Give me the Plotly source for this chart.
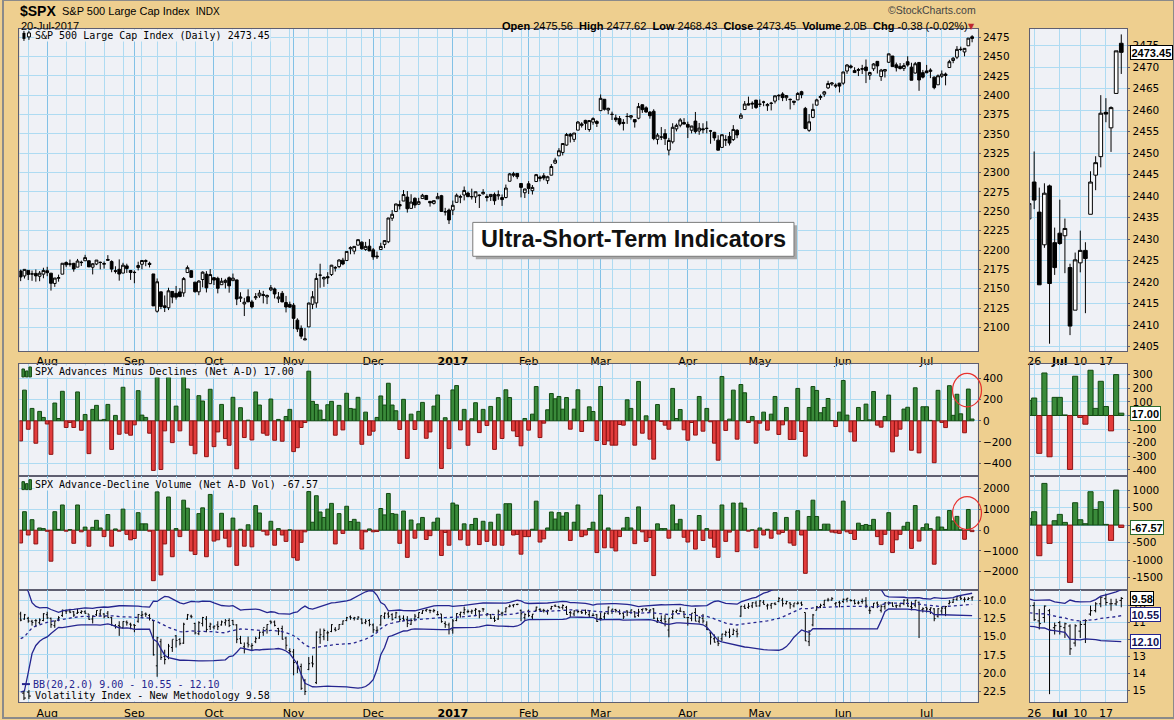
import numpy as np
import pandas as pd
import plotly.graph_objects as go

W, H = 1174, 720

# ---------------- data ----------------
holidays = ["2016-07-04", "2016-09-05", "2016-11-24", "2016-12-26", "2017-01-02",
            "2017-01-16", "2017-02-20", "2017-04-14", "2017-05-29", "2017-07-04"]

spx_open = [
 2172.9,2166.5,2173.7,2168.9,2169.8,2166.1,2168.8,
 2173.2,2170.1,2156.8,2163.5,2168.8,2183.8,2182.2,2182.8,2177.9,2183.7,2186.1,2186.2,2177.8,2181.9,2184.2,2181.6,2187.8,2185.1,2173.3,2175.1,2170.2,2179.5,2173.6,
 2171.3,2177.5,2181.6,2185.2,2182.8,2169.1,2120.9,2146.0,2127.9,2125.4,2146.5,2144.0,2145.9,2144.6,2170.9,2173.3,2158.5,2146.0,2161.9,2168.9,2156.5,
 2164.3,2163.4,2155.2,2158.2,2164.2,2160.4,2161.4,2137.7,2130.3,2139.7,2133.0,2138.3,2140.8,2142.5,2139.4,2148.5,2149.7,2137.0,2144.1,2132.2,2129.8,
 2128.7,2109.4,2098.8,2083.8,2100.6,2129.9,2131.6,2167.5,2162.7,2165.6,2168.3,2177.5,2178.6,2186.9,2186.4,2201.6,2198.6,2206.3,2210.2,2200.8,2205.0,
 2200.2,2191.1,2200.6,2207.3,2210.7,2241.1,2249.7,2258.8,2263.3,2268.4,2253.8,2266.8,2259.2,2266.5,2270.5,2262.9,2260.3,2266.2,2270.2,2249.5,2251.6,
 2251.6,2261.6,2268.2,2271.1,2273.6,2269.0,2268.6,2271.1,2272.7,2269.1,2269.1,2271.9,2270.0,2267.8,2267.9,2288.9,2298.6,2299.0,2286.0,2274.0,
 2285.6,2276.7,2288.5,2294.3,2295.9,2289.6,2296.7,2312.3,2321.7,2326.1,2335.6,2349.6,2343.0,2354.9,2361.1,2367.5,2355.7,2365.2,2366.1,
 2380.1,2394.8,2380.9,2375.2,2370.7,2369.8,2363.5,2372.5,2371.6,2368.6,2370.3,2387.7,2383.7,2378.2,2379.3,2343.0,2346.0,2350.4,2329.1,2339.8,2356.5,2361.3,2364.8,
 2362.3,2354.8,2366.6,2353.8,2356.6,2357.2,2353.9,2352.1,2342.0,2332.6,2342.5,2346.8,2342.7,2354.7,2370.3,2381.5,2389.0,2389.7,2393.7,
 2388.5,2391.1,2386.5,2389.8,2392.4,2399.9,2401.6,2396.8,2394.8,2392.4,2394.0,2404.6,2383.0,2354.7,2371.4,2387.2,2397.0,2401.4,2409.5,2414.5,2411.7,2415.6,
 2415.6,2431.3,2437.8,2431.9,2432.0,2434.3,2436.4,2425.9,2434.2,2443.8,2424.1,2431.2,2442.6,2450.7,2439.3,2437.4,2434.7,2443.3,2436.3,2428.7,2442.4,2429.2,
 2431.4,2430.8,2423.4,2413.5,2424.5,2427.4,2435.8,2444.9,2449.2,2459.5,2455.9,2463.9,2475.56]
spx_high = [
 2174.6,2175.1,2173.7,2173.5,2174.9,2172.9,2177.1,
 2178.3,2170.1,2163.8,2168.2,2182.9,2185.4,2187.7,2183.4,2188.5,2186.3,2193.8,2186.2,2183.1,2187.0,2185.0,2185.2,2193.4,2186.7,2179.0,2187.9,2183.5,2182.3,2173.8,
 2173.6,2184.9,2186.6,2187.9,2184.9,2169.1,2163.3,2146.0,2141.3,2151.3,2146.5,2153.6,2150.8,2165.1,2180.0,2173.8,2158.5,2161.1,2172.4,2172.7,2175.3,
 2164.3,2165.5,2164.0,2162.9,2165.9,2169.6,2161.6,2145.4,2138.2,2149.2,2135.6,2144.4,2148.4,2147.2,2142.6,2154.8,2151.4,2145.7,2147.1,2140.7,2133.3,
 2131.5,2111.8,2102.6,2099.1,2132.0,2146.9,2170.1,2182.3,2165.9,2171.4,2180.8,2179.2,2188.1,2189.9,2198.7,2204.8,2204.7,2213.4,2211.1,2210.5,2214.1,
 2202.6,2198.0,2209.4,2212.8,2241.6,2251.7,2259.8,2264.0,2277.5,2276.2,2272.1,2268.1,2267.5,2272.6,2271.2,2263.2,2263.8,2273.8,2271.3,2254.5,2253.6,
 2263.9,2273.0,2271.5,2282.1,2275.5,2279.3,2275.3,2271.8,2278.7,2272.1,2272.0,2274.3,2277.0,2271.8,2284.6,2299.6,2301.0,2299.0,2286.0,2279.1,
 2289.1,2284.0,2298.3,2296.2,2299.4,2295.9,2311.1,2319.2,2331.6,2337.6,2351.3,2351.3,2351.2,2366.7,2365.1,2368.3,2367.3,2371.5,2367.8,
 2401.0,2394.8,2383.9,2378.8,2375.1,2373.1,2369.1,2376.9,2374.4,2368.6,2390.0,2388.1,2385.7,2379.6,2381.9,2351.0,2358.9,2356.2,2344.9,2363.8,2363.4,2370.4,2370.4,
 2365.9,2360.5,2378.4,2364.2,2363.8,2366.4,2355.2,2352.7,2348.3,2349.1,2348.4,2352.6,2361.4,2356.2,2377.0,2392.5,2398.2,2392.1,2393.7,
 2394.5,2392.9,2389.8,2391.4,2399.3,2401.4,2403.9,2399.7,2395.7,2392.4,2404.1,2405.8,2384.9,2375.7,2389.1,2395.5,2400.9,2405.6,2418.7,2416.7,2415.3,2416.0,
 2430.1,2440.2,2439.6,2436.2,2435.3,2439.3,2446.2,2430.4,2441.5,2443.9,2434.0,2433.2,2453.8,2450.7,2442.2,2441.6,2441.6,2450.4,2442.0,2443.0,2442.7,2432.7,
 2439.2,2434.8,2424.3,2426.9,2432.0,2429.3,2445.8,2449.3,2463.5,2462.8,2460.9,2473.8,2477.62]
spx_low = [
 2159.8,2163.2,2161.2,2160.2,2159.1,2159.7,2163.5,
 2166.2,2147.6,2152.4,2159.1,2168.8,2177.9,2178.6,2172.0,2177.9,2179.4,2186.1,2178.1,2168.5,2180.5,2175.1,2176.0,2186.8,2171.3,2169.7,2160.4,2170.2,2170.4,2161.4,
 2157.1,2173.6,2175.1,2179.1,2177.5,2127.8,2119.1,2123.6,2119.9,2122.4,2131.2,2135.9,2139.2,2139.6,2170.9,2164.0,2145.0,2141.6,2151.8,2145.2,2156.5,
 2154.8,2144.0,2155.2,2150.3,2144.9,2160.4,2128.8,2132.8,2114.7,2133.0,2124.4,2135.5,2138.2,2131.1,2130.1,2146.9,2137.4,2131.6,2132.5,2119.4,2125.5,
 2097.9,2094.0,2085.2,2083.8,2100.6,2123.6,2125.4,2151.2,2152.5,2156.1,2166.4,2172.2,2176.6,2180.4,2186.4,2194.5,2194.5,2206.3,2200.4,2199.0,2198.8,
 2187.4,2188.4,2200.0,2202.5,2208.9,2237.6,2249.2,2252.4,2263.3,2248.4,2253.8,2254.2,2258.2,2266.5,2265.2,2256.1,2258.8,2266.2,2249.1,2244.6,2233.6,
 2245.1,2261.6,2260.5,2264.1,2268.8,2265.3,2260.8,2254.3,2271.5,2262.8,2263.4,2258.4,2265.0,2257.0,2266.7,2288.9,2294.1,2291.6,2268.0,2267.2,
 2272.4,2271.7,2287.9,2288.6,2290.2,2285.4,2296.6,2311.1,2321.4,2322.2,2334.8,2338.9,2339.6,2354.9,2358.3,2355.1,2352.9,2361.9,2359.0,
 2380.1,2380.2,2375.4,2368.0,2365.5,2361.0,2354.5,2363.0,2368.5,2358.2,2368.9,2377.2,2377.6,2369.7,2341.9,2336.5,2342.1,2335.7,2322.3,2337.6,2353.3,2358.6,2362.6,
 2344.7,2350.7,2350.5,2348.9,2350.7,2350.7,2337.3,2341.2,2329.0,2332.5,2334.5,2335.1,2340.9,2344.5,2370.3,2381.2,2386.8,2382.4,2382.4,
 2384.8,2385.8,2379.8,2380.4,2389.4,2393.6,2392.4,2392.8,2381.7,2387.2,2393.9,2396.1,2356.2,2352.7,2370.4,2386.9,2393.9,2398.0,2408.0,2412.2,2409.4,2403.6,
 2413.5,2427.7,2434.3,2429.0,2424.8,2427.4,2415.7,2420.0,2431.3,2428.1,2418.5,2422.9,2441.8,2436.6,2430.7,2433.3,2431.3,2437.0,2419.4,2428.0,2405.7,2421.7,
 2428.7,2422.1,2407.7,2413.5,2422.3,2412.8,2435.8,2441.4,2446.7,2457.2,2450.3,2463.9,2468.43]
spx_close = [
 2165.2,2175.0,2168.5,2169.2,2166.6,2170.1,2173.6,
 2170.8,2157.0,2163.8,2164.3,2182.9,2180.9,2181.7,2175.5,2185.8,2184.1,2190.2,2178.2,2182.2,2187.0,2183.9,2182.6,2186.9,2175.4,2172.5,2169.0,2180.4,2176.1,2171.0,
 2170.9,2180.0,2186.5,2186.2,2181.3,2127.8,2159.0,2127.0,2125.8,2147.3,2139.2,2139.1,2139.8,2163.1,2177.2,2164.7,2146.1,2159.9,2171.4,2151.1,2168.3,
 2161.2,2150.5,2159.7,2160.8,2153.7,2163.7,2136.7,2139.2,2132.6,2133.0,2126.5,2139.6,2144.3,2141.3,2141.2,2151.3,2143.2,2139.4,2133.0,2126.4,2126.2,
 2111.7,2097.9,2088.7,2085.2,2131.5,2139.6,2163.3,2167.5,2164.5,2164.2,2180.4,2176.9,2187.1,2181.9,2198.2,2202.9,2204.7,2213.4,2201.7,2204.7,2198.8,
 2191.1,2192.0,2204.7,2212.2,2241.4,2246.2,2259.5,2257.0,2271.7,2253.3,2262.0,2258.1,2262.5,2270.8,2265.2,2261.0,2263.8,2268.9,2249.9,2249.3,2238.8,
 2257.8,2270.8,2269.0,2277.0,2268.9,2268.9,2275.3,2270.4,2274.6,2267.9,2271.9,2263.7,2271.3,2265.2,2280.1,2298.4,2296.7,2294.7,2280.9,2278.9,
 2279.6,2280.9,2297.4,2292.6,2293.1,2294.7,2307.9,2316.1,2328.3,2337.6,2349.3,2347.2,2351.2,2365.4,2362.8,2363.8,2367.3,2369.8,2363.6,
 2396.0,2381.9,2383.1,2375.3,2368.4,2363.0,2364.9,2372.6,2373.5,2365.5,2385.3,2381.4,2378.3,2373.5,2344.0,2348.5,2346.0,2344.0,2341.6,2358.6,2361.1,2368.1,2362.7,
 2358.8,2360.2,2353.0,2357.5,2355.5,2357.2,2353.8,2344.9,2329.0,2349.0,2342.2,2338.2,2355.8,2348.7,2374.2,2388.6,2387.5,2388.8,2384.2,
 2388.3,2391.2,2388.1,2389.5,2399.3,2399.4,2396.9,2399.6,2394.4,2390.9,2402.3,2400.7,2357.0,2365.7,2381.7,2394.0,2398.4,2404.4,2415.1,2415.8,2412.9,2411.8,
 2430.1,2439.1,2436.1,2429.3,2433.1,2433.8,2431.8,2429.4,2440.4,2437.9,2432.5,2433.2,2453.5,2437.0,2435.6,2434.5,2438.3,2439.1,2419.4,2440.7,2419.7,2423.4,
 2429.0,2432.5,2409.8,2425.2,2427.4,2425.5,2443.3,2447.8,2459.3,2459.1,2460.6,2473.8,2473.45]

ad_net = [
 -190,290,-80,117,-212,89,32,
 -30,-317,168,22,279,-63,-16,-63,273,-89,60,-310,108,146,6,13,155,-270,51,-127,317,-117,-136,
 -38,285,54,32,-117,-469,412,-460,-95,412,-206,139,-95,412,301,-231,-311,238,187,-339,298,
 -244,-105,155,-168,-231,222,-453,124,-158,6,-181,273,149,-117,-136,206,-184,13,-193,41,108,
 -291,-254,-63,-16,469,184,155,101,13,152,184,-136,146,-86,260,117,111,222,-222,82,-136,
 -98,32,235,149,355,149,95,-82,203,-355,63,-82,89,174,-165,-105,139,244,-450,29,-263,
 292,333,-86,108,-231,19,171,-111,108,-44,136,-270,219,-167,293,220,-95,-148,-236,22,
 -88,63,324,-158,-22,104,258,208,230,110,220,-79,110,293,-101,3,132,88,-186,
 324,-224,-189,-230,-230,-35,-41,198,117,-230,372,-117,47,-173,-362,154,-6,-41,-79,306,22,107,-85,
 -183,-16,-135,230,-98,117,-9,-211,-372,419,-91,16,290,-173,343,265,-16,41,-211,
 -22,82,-88,63,230,-129,-38,126,-176,-176,306,-101,-334,126,324,287,76,126,211,3,-54,82,
 381,54,-104,-192,126,3,158,9,277,-41,-60,41,243,-293,-145,-79,111,128,-278,312,-303,133,
 133,4,-396,288,-15,-64,332,52,251,66,-113,300,17]

adv_net = [
 -616,893,-231,508,-662,108,77,
 -50,-1494,893,40,1217,-46,30,-631,1217,-77,150,-770,139,477,108,-308,755,-770,62,-46,1016,-200,-462,
 -400,847,308,308,-46,-2433,1848,-2156,-662,1601,-1278,77,-308,1448,1063,-1001,-1170,801,1078,-1278,1725,
 -524,-462,816,-385,-801,585,-1694,46,-770,262,-801,1186,831,-46,-231,431,-724,77,-231,-539,20,
 -1324,-1447,-585,-77,1863,385,1663,878,616,1016,1294,-662,801,-154,1155,416,524,385,-909,-77,62,
 -77,-62,1047,739,1771,801,770,-631,924,-1309,493,-385,308,616,-447,-262,385,585,-1217,-108,-724,
 1309,1217,-462,308,-724,277,570,-693,431,-539,385,-724,770,-724,1278,1278,-231,-200,-1155,-308,
 -308,46,1401,-570,-416,108,878,539,847,678,847,-493,385,1217,-308,-231,77,385,-1078,
 1694,-847,108,-847,-1001,-308,108,616,108,-647,1124,-77,-539,-354,-2187,308,77,77,-385,1217,308,524,-339,
 -570,-30,-909,709,-493,77,-385,-816,-1309,1217,-539,-92,1309,-1032,1309,1063,-46,20,-847,
 108,-231,46,-385,847,-185,-108,616,-616,-724,940,-231,-2079,662,1448,662,31,293,293,-92,-123,-154,
 1401,-77,-154,-447,339,231,277,231,524,-308,-693,-200,847,-1078,-462,-200,190,381,-876,1190,-524,124,
 305,76,-1638,638,152,38,952,448,667,19,-438,1000,-68]

# VIX closes of the 19 sessions before the first bar (needed for the 20-day bands)
vix_pre_close = [17.25,25.76,23.85,18.75,16.64,15.63,14.77,15.58,14.96,14.76,
                 13.20,13.54,13.55,13.04,12.82,12.67,12.44,11.97,11.77]

vix_open = [
 11.9,12.6,12.5,12.9,12.8,13.1,12.8,
 12.0,12.5,13.5,12.6,12.1,11.5,11.5,11.6,11.8,11.7,11.6,11.9,12.6,12.0,11.9,11.9,11.8,12.4,13.5,13.5,13.8,13.0,13.3,
 13.4,12.9,12.1,11.9,12.1,12.8,19.0,15.7,17.7,17.8,16.5,14.9,15.4,15.9,12.6,12.2,13.2,14.6,13.2,12.6,13.6,
 13.7,13.4,13.4,13.1,12.8,12.8,13.4,15.3,16.4,15.9,16.3,15.7,15.2,14.4,14.0,12.9,13.0,13.9,13.9,15.2,16.9,
 17.1,18.7,19.1,21.0,19.5,18.6,21.3,15.1,15.0,14.5,14.3,14.0,14.0,13.3,12.8,12.3,12.5,12.6,12.6,13.1,12.8,
 13.4,14.2,13.4,12.3,11.9,12.0,12.4,12.3,12.5,12.7,13.3,12.6,12.4,11.8,11.4,11.4,11.5,12.0,11.9,13.2,13.4,
 14.1,12.8,12.0,11.7,11.6,11.6,11.4,11.5,11.2,12.0,12.0,12.5,12.6,11.8,11.6,10.9,10.7,10.6,11.4,12.4,
 11.5,12.3,11.4,11.3,11.4,11.6,11.2,10.8,10.9,11.0,11.0,11.7,11.9,11.5,11.6,11.4,12.0,12.1,12.0,
 12.5,12.3,11.8,11.5,11.3,11.6,11.8,11.5,11.7,11.6,12.1,11.3,11.2,11.5,11.2,13.0,12.8,12.6,14.1,12.4,11.6,11.5,11.6,
 12.4,12.5,11.7,12.9,12.5,13.4,14.5,15.3,15.7,15.3,14.7,14.4,14.7,14.3,12.2,10.9,11.0,10.8,10.4,
 10.8,10.3,10.8,10.7,10.5,10.2,10.0,10.5,10.4,10.8,10.5,10.4,11.7,15.7,13.4,11.4,10.9,10.6,10.0,10.0,10.5,10.3,
 10.2,9.9,10.0,10.1,10.4,10.2,10.1,11.4,11.0,10.4,11.4,10.9,10.4,10.4,10.8,10.8,10.5,10.0,10.9,10.7,10.3,11.3,
 11.0,11.3,11.2,12.2,11.5,11.1,10.5,10.3,9.9,9.6,9.9,9.9,9.7]
vix_high = [
 12.9,12.7,13.1,13.5,13.7,13.3,12.9,
 12.6,13.8,13.8,12.9,12.3,11.9,11.8,12.3,11.9,11.9,11.9,12.7,13.2,12.2,12.2,12.5,12.4,13.5,13.9,14.9,13.9,13.5,14.0,
 14.4,13.1,12.5,12.3,12.8,17.6,20.5,18.2,18.8,18.1,17.1,16.5,16.2,16.0,12.7,12.5,14.7,14.8,13.6,14.4,14.1,
 14.0,14.1,13.5,13.5,13.7,13.4,15.9,16.0,17.3,16.5,16.9,15.9,15.3,14.9,14.6,13.3,13.6,14.8,15.4,16.8,17.4,
 20.3,20.0,22.3,23.0,19.6,19.2,21.5,16.0,15.5,15.6,14.4,14.3,14.0,13.4,12.9,12.7,12.8,12.7,13.3,13.3,13.6,
 14.5,14.4,13.5,12.6,12.5,12.8,12.5,13.0,12.9,13.7,13.4,12.9,12.5,11.9,11.6,11.8,11.7,12.1,13.1,13.8,14.7,
 14.6,12.9,12.4,12.0,11.8,11.9,12.2,12.5,11.6,12.2,12.6,13.0,12.7,12.2,11.7,11.0,11.0,10.7,12.9,12.7,
 12.3,12.6,11.5,11.5,11.7,12.0,11.3,10.9,11.1,11.3,12.0,12.3,12.2,11.8,11.9,12.0,12.4,12.2,13.0,
 12.8,12.7,12.0,11.9,11.7,12.0,12.6,12.2,11.9,12.4,12.3,11.6,11.5,11.7,12.6,13.1,13.1,13.6,15.1,12.6,11.8,11.6,12.4,
 13.5,12.9,12.9,13.2,13.2,14.1,16.1,15.8,16.3,15.6,15.0,15.2,14.8,15.1,12.3,11.2,11.2,11.1,10.9,
 10.9,10.6,11.3,11.2,10.7,10.3,10.9,10.6,11.2,11.0,10.6,10.8,15.6,16.3,13.6,11.4,11.1,10.9,10.2,10.1,10.8,11.0,
 10.4,10.3,10.2,10.6,10.6,10.5,11.1,11.9,11.1,11.1,11.7,11.3,10.7,10.9,11.1,11.0,10.7,10.9,11.4,11.0,15.2,11.7,
 11.7,11.9,12.9,12.4,11.9,12.2,10.6,10.4,10.1,10.0,10.3,10.0,10.1]
vix_low = [
 11.6,11.9,12.3,12.7,12.6,12.5,11.8,
 11.6,12.4,12.8,12.2,11.3,11.3,11.2,11.5,11.2,11.4,11.4,11.9,12.1,11.4,11.3,11.8,11.5,12.3,13.3,12.9,12.9,12.8,13.1,
 13.3,11.9,11.5,11.7,11.9,12.8,15.0,15.3,16.8,16.0,15.4,14.8,15.2,13.1,11.9,12.0,13.1,12.9,12.3,12.2,13.1,
 13.5,12.9,12.8,12.6,12.5,12.7,13.3,14.9,15.8,15.0,15.9,15.0,14.3,13.9,13.3,12.8,12.8,13.8,13.5,15.0,16.6,
 16.7,18.3,18.7,20.8,17.8,17.6,14.3,13.9,13.9,14.2,13.3,13.7,13.3,12.8,12.3,12.1,12.3,12.2,12.5,12.6,12.6,
 13.2,13.6,12.1,11.7,11.6,11.8,11.6,12.1,12.1,12.2,12.5,11.9,11.7,11.4,11.2,11.3,11.2,11.5,11.9,12.9,13.1,
 12.6,11.8,11.6,10.9,11.3,11.3,11.1,11.4,11.1,11.8,11.9,12.2,11.3,11.6,11.0,10.6,10.6,10.5,11.3,11.8,
 11.3,11.9,10.9,11.1,11.2,11.3,10.8,10.6,10.8,10.6,10.8,11.5,11.4,11.4,11.4,11.3,11.4,11.8,11.9,
 11.7,11.7,10.9,11.2,11.2,11.3,11.7,11.4,11.3,11.5,11.2,11.2,11.1,11.3,11.1,12.4,12.1,12.0,12.5,11.4,11.3,11.0,11.5,
 12.3,11.8,11.1,12.2,11.9,12.9,14.4,14.7,15.0,14.6,14.2,13.9,13.9,13.9,10.8,10.6,10.4,10.3,10.1,
 10.0,10.0,10.5,10.4,10.3,9.6,9.7,10.1,10.3,10.4,10.2,10.2,11.7,14.1,11.9,10.8,10.5,10.0,9.7,9.6,10.3,10.1,
 9.8,9.7,9.9,9.9,10.1,9.8,9.6,10.9,10.4,10.2,10.6,10.3,10.2,10.3,10.6,10.4,9.9,9.8,10.2,10.0,10.2,11.0,
 10.9,11.0,11.1,11.1,10.9,10.8,10.0,9.8,9.5,9.3,9.6,9.6,9.5]
vix_close = [
 12.74,12.02,12.87,13.05,12.83,12.72,11.87,
 12.44,13.37,12.86,12.42,11.39,11.50,11.66,12.05,11.68,11.55,11.81,12.64,12.19,11.43,11.34,12.27,12.38,13.45,13.63,13.65,12.94,13.12,13.42,
 13.48,11.98,12.02,11.94,12.51,17.50,15.16,17.85,18.14,16.30,15.37,15.53,15.92,13.30,12.02,12.29,14.50,13.10,12.39,14.02,13.29,
 13.57,13.63,12.99,12.84,13.48,13.38,15.36,15.91,16.69,16.12,16.21,15.28,14.41,13.75,13.34,13.02,13.46,14.24,15.36,16.19,17.06,
 18.56,19.32,22.08,22.51,18.71,18.74,14.38,14.74,14.17,14.48,13.37,14.13,13.35,12.85,12.42,12.41,12.43,12.34,13.15,12.90,13.33,
 14.07,14.12,12.14,11.79,12.22,12.64,11.75,12.64,12.72,13.19,12.79,12.20,11.71,11.45,11.27,11.43,11.44,11.99,12.95,13.37,14.04,
 12.85,11.85,11.67,11.32,11.56,11.49,11.26,11.54,11.23,11.87,12.48,12.78,11.54,11.77,11.07,10.81,10.63,10.58,11.88,11.99,
 12.13,11.93,10.97,11.37,11.45,11.45,10.88,10.85,11.07,10.74,11.97,11.76,11.49,11.57,11.74,11.71,11.47,12.09,12.92,
 12.54,11.81,10.96,11.24,11.45,11.86,12.30,11.66,11.35,12.30,11.63,11.21,11.28,11.34,12.47,12.81,13.12,12.96,12.50,11.53,11.42,11.54,12.37,
 12.38,11.79,12.89,12.39,12.87,14.05,15.07,15.77,15.96,14.66,14.42,14.93,14.15,14.63,10.84,11.13,10.85,10.36,10.82,
 10.11,10.59,10.68,10.46,10.57,9.77,10.50,10.21,10.60,10.40,10.42,10.65,15.59,14.66,12.04,10.93,10.72,10.02,9.99,9.81,10.38,10.41,
 9.89,9.75,10.07,10.45,10.39,10.16,10.70,11.46,10.42,10.64,10.90,10.38,10.37,10.86,10.75,10.48,10.02,10.83,11.06,10.03,11.44,11.18,
 11.22,11.07,12.54,11.19,11.11,10.89,10.30,9.90,9.51,9.82,9.89,9.79,9.58]

price_ticks = list(range(2100, 2476, 25))
zoom_price_ticks = list(range(2405, 2476, 5))
ad_ticks = [-400, -200, 0, 200, 400]
ad_zoom_ticks = [-400, -300, -200, -100, 0, 100, 200, 300]
vol_ticks = [-2000, -1000, 0, 1000, 2000]
vol_zoom_ticks = [-1500, -1000, -500, 0, 500, 1000]
vix_ticks = [10.0, 12.5, 15.0, 17.5, 20.0, 22.5]
vix_zoom_ticks = [10, 11, 12, 13, 14, 15]

# ---------------- derived ----------------
days = pd.bdate_range("2016-06-23", "2017-07-20")
days = days[~days.isin(pd.to_datetime(holidays))]
dates = days[days >= pd.Timestamp("2016-07-21")]
N = len(dates)
for nm, arr in [("spx_open", spx_open), ("spx_high", spx_high), ("spx_low", spx_low),
                ("spx_close", spx_close), ("ad_net", ad_net), ("adv_net", adv_net),
                ("vix_open", vix_open), ("vix_high", vix_high), ("vix_low", vix_low),
                ("vix_close", vix_close)]:
    assert len(arr) == N, (nm, len(arr), N)
idx = np.arange(N)

month_idx, month_lbl = [], []
for i in range(1, N):
    if dates[i].month != dates[i - 1].month:
        month_idx.append(i)
        month_lbl.append("<b>%d</b>" % dates[i].year if dates[i].month == 1 else dates[i].strftime("%b"))
week_idx = [i for i in range(1, N) if dates[i].isocalendar()[1] != dates[i - 1].isocalendar()[1]]

ZL, ZR = 233.2, 252.2
zoom_week = [i for i in week_idx if i > ZL]
zoom_lbl = [("<b>%s</b>" % dates[i].strftime("%b")) if i in month_idx else str(dates[i].day) for i in zoom_week]

s = pd.Series(vix_pre_close + vix_close)
bb_mid = s.rolling(20).mean().values[len(vix_pre_close):]
bb_sd = s.rolling(20).std(ddof=0).values[len(vix_pre_close):]
bb_up = bb_mid + 2 * bb_sd
bb_lo = bb_mid - 2 * bb_sd

# ---------------- styling ----------------
PAPER = "#EECF8F"
PLOT = "#EFF1F6"
GRID = "#AEDBF2"
MGRID = "#82C1E6"
AXL = "#5E5E70"
GREEN, GREEN_L = "#3A8A3A", "#124A12"
RED, RED_L = "#E23C3C", "#8E1414"
NAVY = "#25258F"
MONO = "DejaVu Sans Mono"
SANS = "DejaVu Sans"
ARIAL = "Liberation Sans"


def px(x):
    return x / W


def py(y):
    return 1 - y / H


def ydom(top, bot):
    return [py(bot), py(top)]


LX = [px(16.5), px(977.3)]
RX = [px(1029.7), px(1127.3)]
R_MAIN, R_AD, R_VOL, R_VIX = (29, 352), (365, 477.7), (477.7, 591.7), (591.7, 704.3)

zsel = idx >= 231

traces = []


def candle(xa, ya, sel):
    return go.Candlestick(
        x=idx[sel], open=np.array(spx_open)[sel], high=np.array(spx_high)[sel],
        low=np.array(spx_low)[sel], close=np.array(spx_close)[sel],
        xaxis=xa, yaxis=ya, whiskerwidth=0,
        increasing=dict(line=dict(color="#000000", width=1), fillcolor="#FFFFFF"),
        decreasing=dict(line=dict(color="#000000", width=1), fillcolor="#000000"),
        hoverinfo="skip", showlegend=False)


def bars(vals, xa, ya, sel):
    v = np.array(vals)[sel]
    return go.Bar(
        x=idx[sel], y=v, width=1, xaxis=xa, yaxis=ya,
        marker=dict(color=[GREEN if a >= 0 else RED for a in v],
                    line=dict(color=[GREEN_L if a >= 0 else RED_L for a in v], width=1)),
        hoverinfo="skip", showlegend=False)


def ohlc(xa, ya, sel):
    return go.Ohlc(
        x=idx[sel], open=np.array(vix_open)[sel], high=np.array(vix_high)[sel],
        low=np.array(vix_low)[sel], close=np.array(vix_close)[sel],
        xaxis=xa, yaxis=ya, tickwidth=0.35,
        increasing=dict(line=dict(color="#000000", width=1)),
        decreasing=dict(line=dict(color="#000000", width=1)),
        hoverinfo="skip", showlegend=False)


def band(vals, xa, ya, dash="solid"):
    return go.Scatter(x=idx, y=vals, mode="lines", xaxis=xa, yaxis=ya,
                      line=dict(color=NAVY, width=1.3, dash=dash),
                      hoverinfo="skip", showlegend=False)


all_sel = idx >= 0
traces += [candle("x", "y", all_sel), candle("x2", "y2", zsel)]
traces += [bars(ad_net, "x3", "y3", all_sel), bars(ad_net, "x4", "y4", zsel)]
traces += [bars(adv_net, "x5", "y5", all_sel), bars(adv_net, "x6", "y6", zsel)]
for xa, ya in [("x7", "y7"), ("x8", "y8")]:
    traces += [band(bb_up, xa, ya), band(bb_lo, xa, ya), band(bb_mid, xa, ya, "dot")]
traces += [ohlc("x7", "y7", all_sel), ohlc("x8", "y8", zsel)]

fig = go.Figure(traces)


def xax(dom, rng, anchor, tv, tt, show, minor=None, gc=MGRID):
    d = dict(domain=dom, range=rng, anchor=anchor, tickmode="array", tickvals=tv, ticktext=tt,
             showticklabels=show, showgrid=True, gridcolor=gc, gridwidth=1,
             showline=True, linecolor=AXL, linewidth=1, mirror=True, ticks="",
             zeroline=False, fixedrange=True, rangeslider=dict(visible=False),
             tickfont=dict(family=SANS, size=11, color="#000000"))
    if minor is not None:
        d["minor"] = dict(tickmode="array", tickvals=minor, showgrid=True, gridcolor=GRID, gridwidth=1)
    return d


def yax(dom, rng, anchor, tv, tt=None):
    d = dict(domain=dom, range=rng, anchor=anchor, side="right", tickmode="array", tickvals=tv,
             showgrid=True, gridcolor=GRID, gridwidth=1, showline=True, linecolor=AXL,
             linewidth=1, mirror=True, ticks="outside", ticklen=2, tickcolor=AXL,
             zeroline=False, fixedrange=True,
             tickfont=dict(family=SANS, size=10.5, color="#000000"))
    if tt is not None:
        d["ticktext"] = tt
    return d


LR = [-0.32, 252.5]
ZRNG = [ZL, ZR]
lay = dict(
    width=W, height=H, margin=dict(l=0, r=0, t=0, b=0),
    paper_bgcolor=PAPER, plot_bgcolor=PLOT, showlegend=False, hovermode=False,
    barmode="overlay", boxgap=0.28, boxgroupgap=0.0,
    font=dict(family=SANS, size=11, color="#000000"),
    xaxis=xax(LX, LR, "y", month_idx, month_lbl, True, week_idx),
    yaxis=yax(ydom(*R_MAIN), [2069.5, 2485.7], "x", price_ticks),
    xaxis2=xax(RX, ZRNG, "y2", zoom_week, zoom_lbl, True, None, GRID),
    yaxis2=yax(ydom(*R_MAIN), [2404.0, 2478.9], "x2", zoom_price_ticks),
    xaxis3=xax(LX, LR, "y3", month_idx, month_lbl, False, week_idx),
    yaxis3=yax(ydom(*R_AD), [-525, 537], "x3", ad_ticks),
    xaxis4=xax(RX, ZRNG, "y4", zoom_week, zoom_lbl, False, None, GRID),
    yaxis4=yax(ydom(*R_AD), [-447, 378], "x4", ad_zoom_ticks,
               [("" if v == 0 else str(v)) for v in ad_zoom_ticks]),
    xaxis5=xax(LX, LR, "y5", month_idx, month_lbl, False, week_idx),
    yaxis5=yax(ydom(*R_VOL), [-2885, 2596], "x5", vol_ticks),
    xaxis6=xax(RX, ZRNG, "y6", zoom_week, zoom_lbl, False, None, GRID),
    yaxis6=yax(ydom(*R_VOL), [-1857, 1391], "x6", vol_zoom_ticks,
               [("" if v == 0 else str(v)) for v in vol_zoom_ticks]),
    xaxis7=xax(LX, LR, "y7", month_idx, month_lbl, True, week_idx),
    yaxis7=yax(ydom(*R_VIX), [24.0, 8.63], "x7", vix_ticks, ["%.1f" % v for v in vix_ticks]),
    xaxis8=xax(RX, ZRNG, "y8", zoom_week, zoom_lbl, True, None, GRID),
    yaxis8=yax(ydom(*R_VIX), [15.68, 9.09], "x8", vix_zoom_ticks,
               [("" if v == 12 else str(v)) for v in vix_zoom_ticks]),
)
fig.update_layout(**lay)


def txt(x, y, text, size=10, color="#000000", family=MONO, xanchor="left", bg=None):
    d = dict(x=px(x), y=py(y), xref="paper", yref="paper", text=text, showarrow=False,
             xanchor=xanchor, yanchor="middle", font=dict(size=size, color=color, family=family))
    if bg:
        d.update(bgcolor=bg, borderpad=0)
    return d


def tag(val, yref, text, border, color="#000000"):
    return dict(x=px(1130), xref="paper", y=val, yref=yref, text="<b>%s</b>" % text,
                showarrow=False, xanchor="left", yanchor="middle", bgcolor="#FFFFFF",
                bordercolor=border, borderwidth=1, borderpad=0.5,
                font=dict(size=11, color=color, family=ARIAL))


last = len(spx_close) - 1
ann = [
    txt(15, 11, "<b>$SPX</b>", 14, family=ARIAL),
    txt(57, 11.5, "S&amp;P 500 Large Cap Index\u00a0 <span style='font-size:10px'>INDX</span>", 11, family=ARIAL),
    txt(16, 26, "20-Jul-2017", 11, family=ARIAL),
    txt(969, 26, "<b>Open</b> %.2f\u00a0 <b>High</b> %.2f\u00a0 <b>Low</b> %.2f\u00a0 <b>Close</b> %.2f\u00a0 "
        "<b>Volume</b> 2.0B\u00a0 <b>Chg</b> -0.38 (-0.02%%)"
        % (spx_open[last], spx_high[last], spx_low[last], spx_close[last]),
        11, family=ARIAL, xanchor="right"),
    txt(976, 27, "\u25BC", 8, color="#C0282D", family=SANS, xanchor="right"),
    txt(977, 10.5, "\u00A9StockCharts.com", 10.5, color="#444444", family=ARIAL, xanchor="right"),
    txt(31, 36, "S&amp;P 500 Large Cap Index (Daily) %.2f" % spx_close[last], 10, bg=PLOT),
    txt(31, 372.5, "SPX Advances Minus Declines (Net A-D) %.2f" % ad_net[last], 10, bg=PLOT),
    txt(31, 485.5, "SPX Advance-Decline Volume (Net A-D Vol) %.2f" % -67.57, 10, bg=PLOT),
    txt(29, 686, "BB(20,2.0) %.2f - %.2f - %.2f" % (9.00, 10.55, 12.10), 10, color=NAVY, bg=PLOT),
    txt(31, 697.5, "Volatility Index - New Methodology %.2f" % vix_close[last], 10, bg=PLOT),
    txt(632, 240, "<b>Ultra-Short-Term Indicators</b>", 23.5, color="#111111", family=ARIAL, xanchor="center"),
    tag(spx_close[last], "y2", "%.2f" % spx_close[last], "#000000"),
    tag(17.0, "y4", "17.00", "#2E6B2E"),
    tag(-67.57, "y6", "-67.57", "#2E6B2E"),
    tag(vix_close[last], "y8", "%.2f" % vix_close[last], "#000000"),
    tag(10.55, "y8", "10.55", NAVY, "#111155"),
    tag(12.10, "y8", "12.10", NAVY, "#111155"),
]


def rect(x0, y0, x1, y1, fill, line=None, lw=0):
    return dict(type="rect", xref="paper", yref="paper", x0=px(x0), x1=px(x1), y0=py(y1), y1=py(y0),
                fillcolor=fill, line=dict(color=line or fill, width=lw), layer="above")


def seg(x0, y0, x1, y1, color, w=1):
    return dict(type="line", xref="paper", yref="paper", x0=px(x0), x1=px(x1), y0=py(y0), y1=py(y1),
                line=dict(color=color, width=w), layer="above")


shapes = [
    # annotation box with shadow
    rect(474, 226, 796, 260, "#A8A8A8"),
    rect(471, 223, 793, 257, "#FFFFFF", "#7A7A7A", 1),
    # red circles
    dict(type="circle", xref="paper", yref="paper", x0=px(952), x1=px(981), y0=py(408), y1=py(374.5),
         line=dict(color="#E8322E", width=1.2), layer="above"),
    dict(type="circle", xref="paper", yref="paper", x0=px(952), x1=px(981), y0=py(531), y1=py(498),
         line=dict(color="#E8322E", width=1.2), layer="above"),
    # title icons
    seg(21, 31, 21, 41, "#000000"), rect(19.5, 33, 22.5, 39, "#000000"),
    seg(26, 31, 26, 40, "#000000"), rect(24.5, 33, 27.5, 37, "#FFFFFF", "#000000", 1),
    rect(19, 370, 21.5, 378, GREEN, GREEN_L, 1), rect(22.5, 372, 25, 378, GREEN, GREEN_L, 1),
    rect(26, 368, 28.5, 378, GREEN, GREEN_L, 1),
    rect(19, 483, 21.5, 491, GREEN, GREEN_L, 1), rect(22.5, 485, 25, 491, GREEN, GREEN_L, 1),
    rect(26, 481, 28.5, 491, GREEN, GREEN_L, 1),
    seg(19, 686, 27, 686, NAVY, 2),
    seg(21, 693, 21, 702, "#000000"), seg(19, 695, 21, 695, "#000000"), seg(21, 700, 23, 700, "#000000"),
    seg(26, 692, 26, 701, "#000000"), seg(24, 694, 26, 694, "#000000"), seg(26, 698, 28, 698, "#000000"),
    # outer frame
    dict(type="rect", xref="paper", yref="paper", x0=0, x1=1, y0=0, y1=1,
         line=dict(color="#8A8A8A", width=2), layer="above"),
]

fig.update_layout(annotations=ann, shapes=shapes)

fig.write_html("out.html", include_plotlyjs=True, config={"displayModeBar": False, "staticPlot": True},
               post_script="document.body.style.margin='0px';document.body.style.overflow='hidden';")
